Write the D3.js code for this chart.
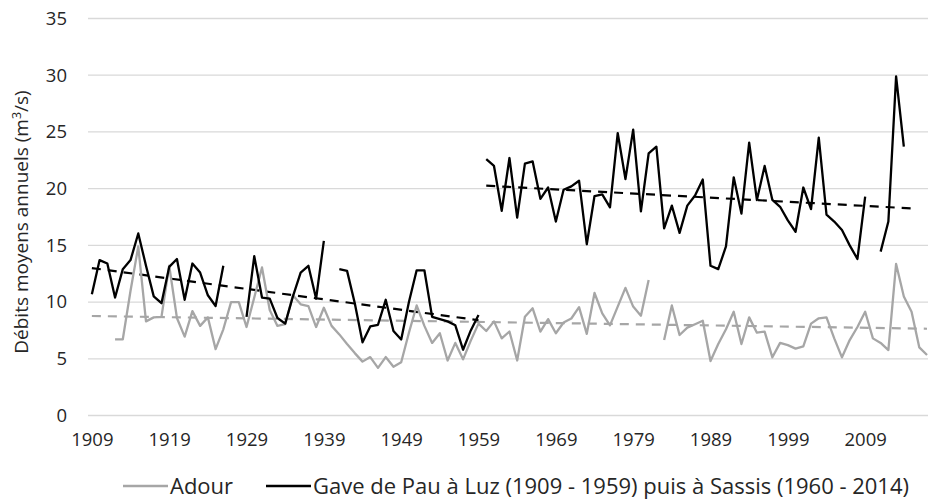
<!DOCTYPE html>
<html>
<head>
<meta charset="utf-8">
<script src="https://cdn.jsdelivr.net/npm/d3@7"></script>
<style>
  html, body { margin: 0; padding: 0; background: #fff; }
  svg { display: block; }
  text { font-family: "Open Sans", Lato, sans-serif; fill: #262626; }
</style>
</head>
<body>
<svg id="chart" width="928" height="501"></svg>
<script>
// Years on the category axis
const years = d3.range(1909, 2018);
const tickYears = [1909, 1919, 1929, 1939, 1949, 1959, 1969, 1979, 1989, 1999, 2009];
const yTicks = [0, 5, 10, 15, 20, 25, 30, 35];

// Adour, annual mean discharge (m3/s), 1909-2017 (null = no data)
const adour = [
  null, null, null, 6.72, 6.72, 11.0, 14.9, 8.3, 8.65, 8.7,
  13.2, 8.6, 6.95, 9.2, 7.9, 8.65, 5.85, 7.6, 10.0, 10.0,
  7.8, 10.4, 13.05, 9.3, 7.9, 8.05, 10.6, 9.8, 9.65, 7.8,
  9.5, 7.9, 7.15, 6.3, 5.5, 4.75, 5.15, 4.2, 5.15, 4.3,
  4.7, 7.3, 9.7, 7.9, 6.4, 7.25, 4.85, 6.4, 4.95, 6.6,
  8.1, 7.45, 8.3, 6.8, 7.4, 4.85, 8.7, 9.45, 7.4, 8.5,
  7.25, 8.2, 8.55, 9.55, 7.2, 10.8, 9.0, 7.95, 9.6, 11.25,
  9.6, 8.8, 11.95, null, 6.65, 9.7, 7.1, 7.75, 8.05, 8.36,
  4.8, 6.3, 7.6, 9.15, 6.3, 8.65, 7.3, 7.4, 5.13, 6.4,
  6.2, 5.9, 6.1, 8.1, 8.57, 8.65, 6.8, 5.13, 6.65, 7.8,
  9.15, 6.8, 6.4, 5.77, 13.36, 10.5, 9.15, 6.0, 5.33
];

// Gave de Pau at Luz, 1909-1959
const gaveLuz = [
  10.7, 13.7, 13.4, 10.4, 12.9, 13.7, 16.05, 13.2, 10.5, 9.9,
  13.1, 13.8, 10.2, 13.4, 12.6, 10.6, 9.65, 13.2, null, null,
  8.7, 14.05, 10.4, 10.3, 8.6, 8.1, 10.5, 12.6, 13.2, 10.3,
  15.4, null, 12.9, 12.75, 9.9, 6.45, 7.85, 8.0, 10.2, 7.45,
  6.7, 10.0, 12.8, 12.8, 8.7, 8.5, 8.3, 7.95, 5.8, 7.5,
  8.86
];

// Gave de Pau at Sassis, 1960-2014
const gaveSassis = [
  22.6, 22.0, 18.05, 22.7, 17.45, 22.2, 22.4, 19.1, 20.1, 17.1,
  19.9, 20.2, 20.7, 15.1, 19.35, 19.5, 18.35, 24.9, 20.85, 25.2,
  18.0, 23.1, 23.7, 16.5, 18.5, 16.1, 18.5, 19.4, 20.8, 13.2,
  12.9, 14.9, 21.0, 17.8, 24.05, 19.0, 22.0, 19.0, 18.4, 17.2,
  16.2, 20.1, 18.2, 24.5, 17.7, 17.1, 16.35, 15.0, 13.8, 19.3,
  null, 14.45, 17.1, 29.9, 23.7
];

// Linear trend lines: [startYear, startValue, endYear, endValue]
const adourTrend = [1909, 8.77, 2017, 7.65];
const luzTrend = [1909, 13.0, 1959, 8.4];
const sassisTrend = [1960, 20.26, 2015, 18.26];

const legendLabels = ["Adour", "Gave de Pau à Luz (1909 - 1959) puis à Sassis (1960 - 2014)"];

const grey = "#a6a6a6";
const black = "#000000";

const svg = d3.select("#chart");

const x = d3.scaleLinear().domain([1908.5, 2017.5]).range([88, 930.9]);
const y = d3.scaleLinear().domain([0, 35]).range([415.5, 18.5]);

// Horizontal gridlines
svg.append("g").selectAll("line").data(yTicks).join("line")
  .attr("x1", 88).attr("x2", 928)
  .attr("y1", d => y(d)).attr("y2", d => y(d))
  .attr("stroke", "#d9d9d9").attr("stroke-width", 1.3);

// Y axis labels
const yAxis = d3.axisLeft(y).tickValues(yTicks).tickSize(0).tickPadding(0);
svg.append("g").attr("transform", "translate(67,0)").call(yAxis)
  .call(g => g.select(".domain").remove())
  .selectAll("text").style("font-size", "18.5px").attr("fill", "#262626")
  .style("font-family", "'Open Sans', sans-serif");

// X axis labels
const xAxis = d3.axisBottom(x).tickValues(tickYears).tickFormat(d3.format("d")).tickSize(0).tickPadding(0);
svg.append("g").attr("transform", "translate(0,433)").call(xAxis)
  .call(g => g.select(".domain").remove())
  .selectAll("text").style("font-size", "18.5px").attr("fill", "#262626")
  .style("font-family", "'Open Sans', sans-serif");

// Y axis title
svg.append("text")
  .attr("transform", "translate(28,222) rotate(-90)")
  .attr("text-anchor", "middle")
  .style("font-size", "19px")
  .call(t => {
    t.append("tspan").text("Débits moyens annuels (m");
    t.append("tspan").text("3").attr("dy", -7).style("font-size", "12.5px");
    t.append("tspan").text("/s)").attr("dy", 7);
  });

const line = d3.line()
  .defined(d => d[1] !== null)
  .x(d => x(d[0])).y(d => y(d[1]));

function seriesPoints(startYear, values) {
  return values.map((v, i) => [startYear + i, v]);
}

const trendLine = t => [[t[0], t[1]], [t[2], t[3]]];

const plot = svg.append("g");

// Trend lines
[[adourTrend, grey], [luzTrend, black], [sassisTrend, black]].forEach(([t, c]) => {
  plot.append("path").attr("d", line(trendLine(t)))
    .attr("fill", "none").attr("stroke", c).attr("stroke-width", 2.2)
    .attr("stroke-dasharray", "9,7");
});

// Series
[[1909, adour, grey], [1909, gaveLuz, black], [1960, gaveSassis, black]].forEach(([start, vals, c]) => {
  plot.append("path").attr("d", line(seriesPoints(start, vals)))
    .attr("fill", "none").attr("stroke", c).attr("stroke-width", 2.3)
    .attr("stroke-linejoin", "round");
});

// Legend
const legend = svg.append("g").attr("transform", "translate(0,485)");
const legendItems = [
  { label: legendLabels[0], color: grey, x0: 123 },
  { label: legendLabels[1], color: black, x0: 266 }
];
legendItems.forEach(it => {
  legend.append("line").attr("x1", it.x0).attr("x2", it.x0 + 45)
    .attr("y1", 1).attr("y2", 1)
    .attr("stroke", it.color).attr("stroke-width", 2.3);
  legend.append("text").attr("x", it.x0 + 47).attr("y", 0)
    .attr("dominant-baseline", "central")
    .style("font-size", "22px").text(it.label);
});
</script>
</body>
</html>
